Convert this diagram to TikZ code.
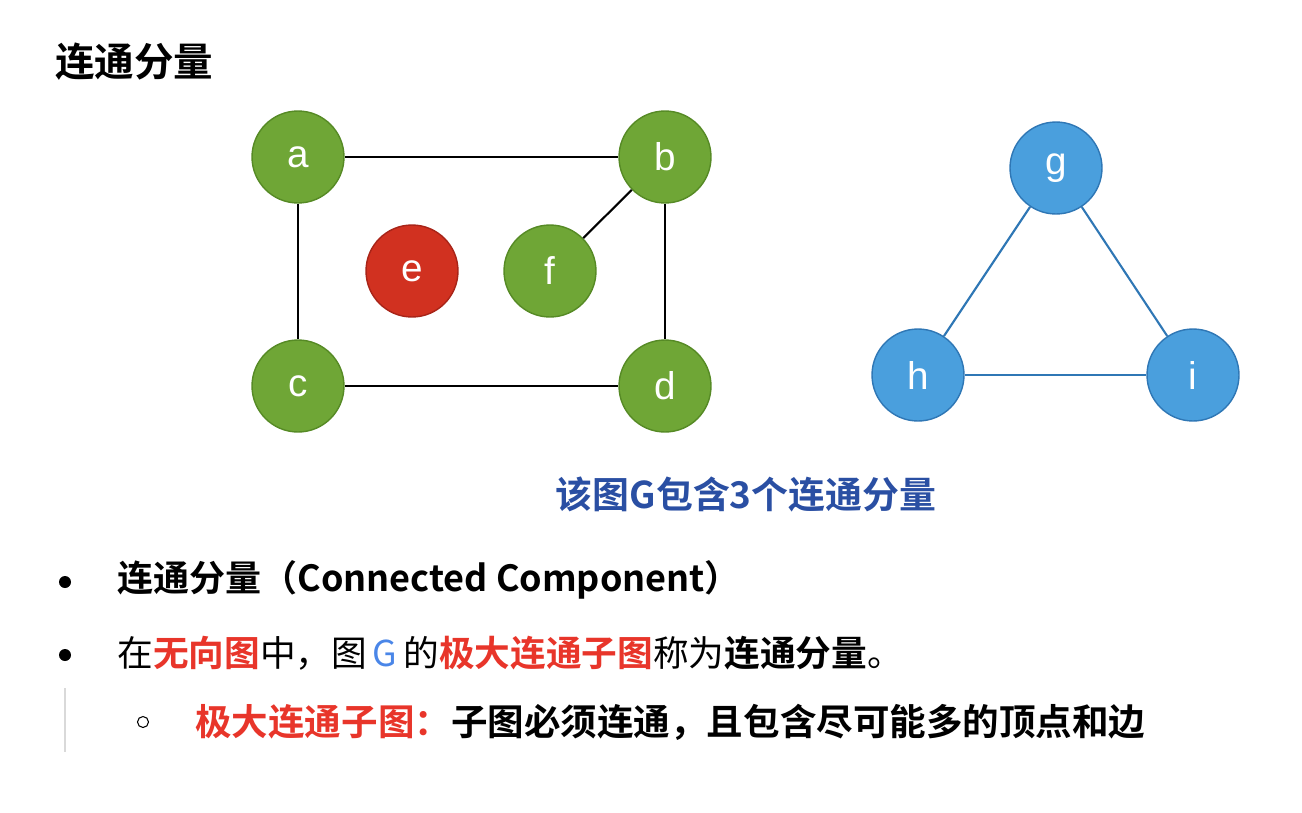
\documentclass[tikz,border=0pt]{standalone}
\usepackage{fontspec}
\setmainfont{Noto Sans CJK SC}
\newfontfamily\cjkbold{Noto Sans CJK SC Bold}
\newfontfamily\labelfont{Liberation Sans}
\usetikzlibrary{positioning}

\definecolor{vgreen}{HTML}{6FA636}
\definecolor{vgreenline}{HTML}{568A25}
\definecolor{vred}{HTML}{D13120}
\definecolor{vredline}{HTML}{A82418}
\definecolor{vblue}{HTML}{4A9FDD}
\definecolor{vblueline}{HTML}{2F77B5}
\definecolor{captionblue}{HTML}{2A4FA3}
\definecolor{hlred}{HTML}{E8352A}
\definecolor{gblue}{HTML}{4A86E8}

\begin{document}
\begin{tikzpicture}[
    x=0.02cm, y=-0.02cm,
    vertex/.style={circle, draw, line width=0.8pt, minimum size=1.84cm, inner sep=0pt,
                   text=white, font=\labelfont\fontsize{22}{22}\selectfont},
    green/.style={vertex, fill=vgreen, draw=vgreenline},
    redv/.style={vertex, fill=vred, draw=vredline},
    bluev/.style={vertex, fill=vblue, draw=vblueline},
    edge/.style={line width=1.2pt, black},
    bedge/.style={line width=1.2pt, vblueline},
    txt/.style={anchor=west, inner sep=0pt, font=\fontsize{20.3}{24}\selectfont}
]
\useasboundingbox (0,0) rectangle (1302,812);

% title
\node[txt, font=\cjkbold\fontsize{22.5}{26}\selectfont] (title) at (55,62) {连通分量};

% first component and isolated vertex
\node[green] (a) at (298,157) {a};
\node[green] (b) at (665,157) {b};
\node[green] (c) at (298,386) {c};
\node[green] (d) at (665,386) {d};
\node[redv]  (e) at (412,271) {e};
\node[green] (f) at (550,271) {f};

\draw[edge] (a) -- (b);
\draw[edge] (a) -- (c);
\draw[edge] (b) -- (d);
\draw[edge] (c) -- (d);
\draw[edge] (b) -- (f);

% second component
\node[bluev] (g) at (1056,168) {g};
\node[bluev] (h) at (918,375) {h};
\node[bluev] (i) at (1193,375) {i};

\draw[bedge] (g) -- (h);
\draw[bedge] (g) -- (i);
\draw[bedge] (h) -- (i);

\node[font=\cjkbold\fontsize{21}{24}\selectfont, text=captionblue] (caption) at (746,495) {该图G包含3个连通分量};

% bullets
\fill (65,582) circle (6);
\node[txt, font=\cjkbold\fontsize{20.5}{24}\selectfont] (line1) at (117,580) {连通分量（Connected Component）};

\fill (65,655) circle (6);
\node[txt] (line2) at (117,653) {在{\cjkbold\color{hlred}无向图}中，图\,{\color{gblue}G}\,的{\cjkbold\color{hlred}极大连通子图}称为{\cjkbold 连通分量}。};

\draw[black!15, line width=0.6pt] (65,688) -- (65,752);
\draw[line width=0.6pt] (143,722) circle (5.5);
\node[txt, font=\cjkbold\fontsize{20.8}{24}\selectfont] (line3) at (195,722) {{\color{hlred}极大连通子图：}子图必须连通，且包含尽可能多的顶点和边};
\end{tikzpicture}
\end{document}
